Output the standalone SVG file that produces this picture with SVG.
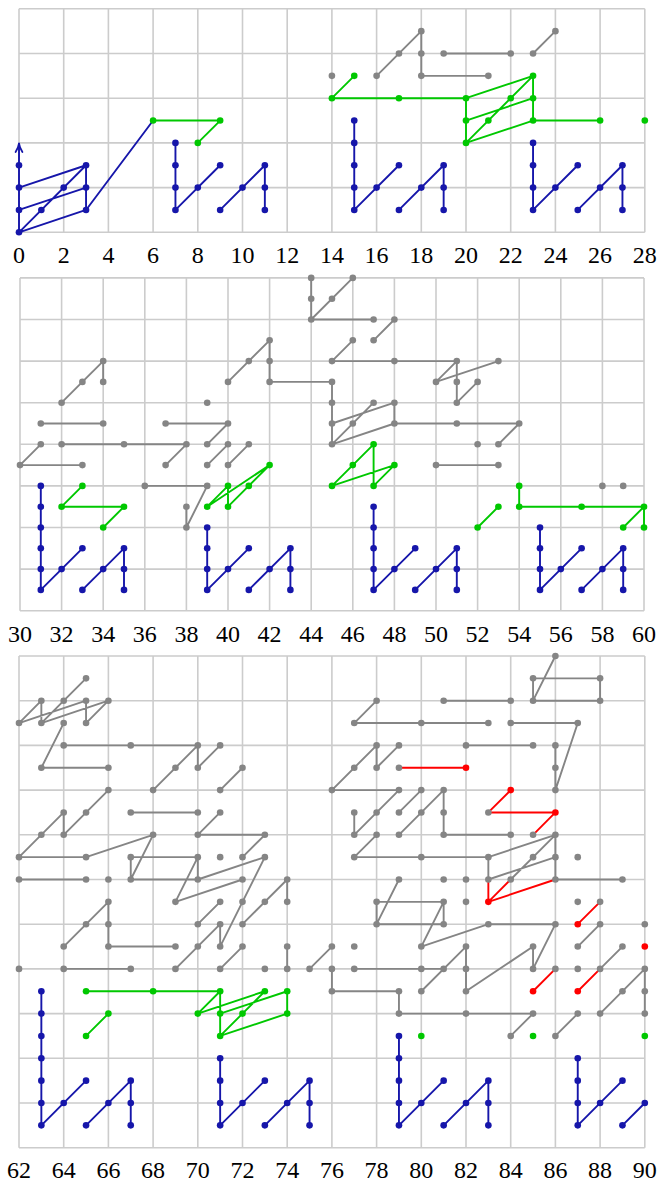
<svg xmlns="http://www.w3.org/2000/svg" width="658" height="1185" viewBox="0 0 658 1185">
<style>
.grid{fill:none;stroke:#cccccc;stroke-width:1.6;vector-effect:non-scaling-stroke}
.c path{fill:none;stroke-width:1.9;stroke-linecap:round;stroke-linejoin:round;vector-effect:non-scaling-stroke}
.b{stroke:#1616aa}
.g{stroke:#00c800}
.k{stroke:#858585}
.r{stroke:#ff0000}
.nb circle{fill:#1616aa}
.ng circle{fill:#00c800}
.nk circle{fill:#858585}
.nr circle{fill:#ff0000}
text{font-family:"Liberation Serif","DejaVu Serif",serif;font-size:24px;text-anchor:middle;fill:#000}
</style>
<rect width="658" height="1185" fill="#fff"/>

<g id="panel1" transform="matrix(22.35 0 0 -22.35 19 232.3)">
<path class="grid" d="M0 0V10M2 0V10M4 0V10M6 0V10M8 0V10M10 0V10M12 0V10M14 0V10M16 0V10M18 0V10M20 0V10M22 0V10M24 0V10M26 0V10M28 0V10M0 0H28M0 2H28M0 4H28M0 6H28M0 8H28M0 10H28"/>
<g id="p1-connectors" class="c">
<path class="k" d="M16 7L18 9V7H21M19 8H22M23 8L24 9"/>
<path class="g" d="M6 5H9L8 4M14 6L15 7M14 6H20M20 4V6M20 6L23 7M20 5L23 6M20 4L23 5M20 4L23 7M23 5V7M23 5H26"/>
<path class="b" d="M0 0V3.97M0 2L3 3M0 1L3 2M0 0L3 1M0 0L3 3M3 1V3M3 1L6 5M7 1V4M7 1L9 3M9 1L11 3M11 1V3M15 1V5M15 1L17 3M17 1L19 3M19 1V3M23 1V4M23 1L25 3M25 1L27 3M27 1V3"/>
</g>
<g id="p1-gray-nodes" class="nk">
<circle cx="14" cy="7" r=".148"/><circle cx="16" cy="7" r=".148"/><circle cx="17" cy="8" r=".148"/><circle cx="18" cy="9" r=".148"/><circle cx="18" cy="8" r=".148"/><circle cx="18" cy="7" r=".148"/><circle cx="21" cy="7" r=".148"/><circle cx="19" cy="8" r=".148"/><circle cx="22" cy="8" r=".148"/><circle cx="23" cy="8" r=".148"/><circle cx="24" cy="9" r=".148"/>
</g>
<g id="p1-green-nodes" class="ng">
<circle cx="6" cy="5" r=".148"/><circle cx="9" cy="5" r=".148"/><circle cx="8" cy="4" r=".148"/><circle cx="14" cy="6" r=".148"/><circle cx="15" cy="7" r=".148"/><circle cx="17" cy="6" r=".148"/><circle cx="20" cy="6" r=".148"/><circle cx="20" cy="5" r=".148"/><circle cx="20" cy="4" r=".148"/><circle cx="21" cy="5" r=".148"/><circle cx="22" cy="6" r=".148"/><circle cx="23" cy="7" r=".148"/><circle cx="23" cy="6" r=".148"/><circle cx="23" cy="5" r=".148"/><circle cx="26" cy="5" r=".148"/><circle cx="28" cy="5" r=".148"/>
</g>
<g id="p1-blue-nodes" class="nb">
<circle cx="0" cy="0" r=".148"/><circle cx="0" cy="1" r=".148"/><circle cx="0" cy="2" r=".148"/><circle cx="0" cy="3" r=".148"/><circle cx="1" cy="1" r=".148"/><circle cx="2" cy="2" r=".148"/><circle cx="3" cy="3" r=".148"/><circle cx="3" cy="2" r=".148"/><circle cx="3" cy="1" r=".148"/>
<circle cx="7" cy="1" r=".148"/><circle cx="7" cy="2" r=".148"/><circle cx="7" cy="3" r=".148"/><circle cx="7" cy="4" r=".148"/><circle cx="8" cy="2" r=".148"/><circle cx="9" cy="3" r=".148"/><circle cx="9" cy="1" r=".148"/><circle cx="10" cy="2" r=".148"/><circle cx="11" cy="3" r=".148"/><circle cx="11" cy="2" r=".148"/><circle cx="11" cy="1" r=".148"/>
<circle cx="15" cy="1" r=".148"/><circle cx="15" cy="2" r=".148"/><circle cx="15" cy="3" r=".148"/><circle cx="15" cy="4" r=".148"/><circle cx="15" cy="5" r=".148"/><circle cx="16" cy="2" r=".148"/><circle cx="17" cy="3" r=".148"/><circle cx="17" cy="1" r=".148"/><circle cx="18" cy="2" r=".148"/><circle cx="19" cy="3" r=".148"/><circle cx="19" cy="2" r=".148"/><circle cx="19" cy="1" r=".148"/>
<circle cx="23" cy="1" r=".148"/><circle cx="23" cy="2" r=".148"/><circle cx="23" cy="3" r=".148"/><circle cx="23" cy="4" r=".148"/><circle cx="24" cy="2" r=".148"/><circle cx="25" cy="3" r=".148"/><circle cx="25" cy="1" r=".148"/><circle cx="26" cy="2" r=".148"/><circle cx="27" cy="3" r=".148"/><circle cx="27" cy="2" r=".148"/><circle cx="27" cy="1" r=".148"/>
</g>
</g>
<path id="p1-arrowhead" d="M15.6 152Q18.4 147.6 19 143.3Q19.6 147.6 22.4 152" fill="none" stroke="#1616aa" stroke-width="1.8" stroke-linecap="round"/>

<g id="panel2" transform="matrix(20.8 0 0 -20.8 -604 610.7)">
<path class="grid" d="M30 0V16M32 0V16M34 0V16M36 0V16M38 0V16M40 0V16M42 0V16M44 0V16M46 0V16M48 0V16M50 0V16M52 0V16M54 0V16M56 0V16M58 0V16M60 0V16M30 0H60M30 2H60M30 4H60M30 6H60M30 8H60M30 10H60M30 12H60M30 14H60M30 16H60"/>
<g id="p2-connectors" class="c">
<path class="k" d="M44 16V14L46 16M44 14H47M47 13L48 14M45 12L46 13M45 12H51L50 11L53 12M51 12V10L52 11M40 11L42 13V11H45V8L47 10M45 9L48 10V9M45 8L48 9H54L53 8M32 10L34 12V11M31 9H34M37 9H40L39 8M30 7L31 8M30 7H33M32 8H38L37 7M39 7L40 8M40 7L41 8M36 6H39L38 4V5M50 7H53"/>
<path class="g" d="M33 6L32 5H35L34 4M39 5L40 6V5L42 7M39 5L42 7M45 6L47 8V6L48 7M45 6L48 7M52 4L53 5M54 6V5H60L59 4M60 5V4"/>
<path class="b" d="M31 1V6M31 1L33 3M33 1L35 3M35 1V3M39 1V4M39 1L41 3M41 1L43 3M43 1V3M47 1V5M47 1L49 3M49 1L51 3M51 1V3M55 1V4M55 1L57 3M57 1L59 3M59 1V3"/>
</g>
<g id="p2-gray-nodes" class="nk">
<circle cx="44" cy="16" r=".159"/><circle cx="44" cy="15" r=".159"/><circle cx="44" cy="14" r=".159"/><circle cx="45" cy="15" r=".159"/><circle cx="46" cy="16" r=".159"/><circle cx="47" cy="14" r=".159"/><circle cx="47" cy="13" r=".159"/><circle cx="48" cy="14" r=".159"/><circle cx="45" cy="12" r=".159"/><circle cx="46" cy="13" r=".159"/><circle cx="48" cy="12" r=".159"/><circle cx="51" cy="12" r=".159"/><circle cx="50" cy="11" r=".159"/><circle cx="53" cy="12" r=".159"/><circle cx="51" cy="11" r=".159"/><circle cx="51" cy="10" r=".159"/><circle cx="52" cy="11" r=".159"/>
<circle cx="40" cy="11" r=".159"/><circle cx="41" cy="12" r=".159"/><circle cx="42" cy="13" r=".159"/><circle cx="42" cy="12" r=".159"/><circle cx="42" cy="11" r=".159"/><circle cx="45" cy="11" r=".159"/><circle cx="45" cy="10" r=".159"/><circle cx="45" cy="9" r=".159"/><circle cx="45" cy="8" r=".159"/><circle cx="46" cy="9" r=".159"/><circle cx="47" cy="10" r=".159"/><circle cx="48" cy="10" r=".159"/><circle cx="48" cy="9" r=".159"/><circle cx="51" cy="9" r=".159"/><circle cx="54" cy="9" r=".159"/><circle cx="53" cy="8" r=".159"/><circle cx="52" cy="8" r=".159"/>
<circle cx="32" cy="10" r=".159"/><circle cx="33" cy="11" r=".159"/><circle cx="34" cy="12" r=".159"/><circle cx="34" cy="11" r=".159"/><circle cx="39" cy="10" r=".159"/><circle cx="31" cy="9" r=".159"/><circle cx="34" cy="9" r=".159"/><circle cx="37" cy="9" r=".159"/><circle cx="40" cy="9" r=".159"/><circle cx="39" cy="8" r=".159"/><circle cx="30" cy="7" r=".159"/><circle cx="31" cy="8" r=".159"/><circle cx="33" cy="7" r=".159"/><circle cx="32" cy="8" r=".159"/><circle cx="35" cy="8" r=".159"/><circle cx="38" cy="8" r=".159"/><circle cx="37" cy="7" r=".159"/><circle cx="39" cy="7" r=".159"/><circle cx="40" cy="8" r=".159"/><circle cx="40" cy="7" r=".159"/><circle cx="41" cy="8" r=".159"/><circle cx="36" cy="6" r=".159"/><circle cx="39" cy="6" r=".159"/><circle cx="38" cy="4" r=".159"/><circle cx="38" cy="5" r=".159"/><circle cx="50" cy="7" r=".159"/><circle cx="53" cy="7" r=".159"/><circle cx="58" cy="6" r=".159"/><circle cx="59" cy="6" r=".159"/>
</g>
<g id="p2-green-nodes" class="ng">
<circle cx="33" cy="6" r=".159"/><circle cx="32" cy="5" r=".159"/><circle cx="35" cy="5" r=".159"/><circle cx="34" cy="4" r=".159"/><circle cx="39" cy="5" r=".159"/><circle cx="40" cy="6" r=".159"/><circle cx="40" cy="5" r=".159"/><circle cx="41" cy="6" r=".159"/><circle cx="42" cy="7" r=".159"/><circle cx="45" cy="6" r=".159"/><circle cx="46" cy="7" r=".159"/><circle cx="47" cy="8" r=".159"/><circle cx="47" cy="6" r=".159"/><circle cx="48" cy="7" r=".159"/><circle cx="52" cy="4" r=".159"/><circle cx="53" cy="5" r=".159"/><circle cx="54" cy="6" r=".159"/><circle cx="54" cy="5" r=".159"/><circle cx="57" cy="5" r=".159"/><circle cx="60" cy="5" r=".159"/><circle cx="59" cy="4" r=".159"/><circle cx="60" cy="4" r=".159"/>
</g>
<g id="p2-blue-nodes" class="nb">
<circle cx="31" cy="1" r=".159"/><circle cx="31" cy="2" r=".159"/><circle cx="31" cy="3" r=".159"/><circle cx="31" cy="4" r=".159"/><circle cx="31" cy="5" r=".159"/><circle cx="31" cy="6" r=".159"/><circle cx="32" cy="2" r=".159"/><circle cx="33" cy="3" r=".159"/><circle cx="33" cy="1" r=".159"/><circle cx="34" cy="2" r=".159"/><circle cx="35" cy="3" r=".159"/><circle cx="35" cy="2" r=".159"/><circle cx="35" cy="1" r=".159"/>
<circle cx="39" cy="1" r=".159"/><circle cx="39" cy="2" r=".159"/><circle cx="39" cy="3" r=".159"/><circle cx="39" cy="4" r=".159"/><circle cx="40" cy="2" r=".159"/><circle cx="41" cy="3" r=".159"/><circle cx="41" cy="1" r=".159"/><circle cx="42" cy="2" r=".159"/><circle cx="43" cy="3" r=".159"/><circle cx="43" cy="2" r=".159"/><circle cx="43" cy="1" r=".159"/>
<circle cx="47" cy="1" r=".159"/><circle cx="47" cy="2" r=".159"/><circle cx="47" cy="3" r=".159"/><circle cx="47" cy="4" r=".159"/><circle cx="47" cy="5" r=".159"/><circle cx="48" cy="2" r=".159"/><circle cx="49" cy="3" r=".159"/><circle cx="49" cy="1" r=".159"/><circle cx="50" cy="2" r=".159"/><circle cx="51" cy="3" r=".159"/><circle cx="51" cy="2" r=".159"/><circle cx="51" cy="1" r=".159"/>
<circle cx="55" cy="1" r=".159"/><circle cx="55" cy="2" r=".159"/><circle cx="55" cy="3" r=".159"/><circle cx="55" cy="4" r=".159"/><circle cx="56" cy="2" r=".159"/><circle cx="57" cy="3" r=".159"/><circle cx="57" cy="1" r=".159"/><circle cx="58" cy="2" r=".159"/><circle cx="59" cy="3" r=".159"/><circle cx="59" cy="2" r=".159"/><circle cx="59" cy="1" r=".159"/>
</g>
</g>

<g id="panel3" transform="matrix(22.35 0 0 -22.35 -1366.7 1147.7)">
<path class="grid" d="M62 0V22M64 0V22M66 0V22M68 0V22M70 0V22M72 0V22M74 0V22M76 0V22M78 0V22M80 0V22M82 0V22M84 0V22M86 0V22M88 0V22M90 0V22M62 0H90M62 2H90M62 4H90M62 6H90M62 8H90M62 10H90M62 12H90M62 14H90M62 16H90M62 18H90M62 20H90M62 22H90"/>
<g id="p3-connectors" class="c">
<path class="k" d="M62 19L63 20V19L65 21M62 19L65 20M63 19L66 20M65 20V19L66 20M64 19L63 17H66M64 18H70L68 16M70 18V17L71 18M71 16L72 17M62 13L64 15V14L66 16M67 15H70M70 14L71 15M70 14H73L72 13M62 13H65L68 14L67 12V13H70V12M67 12H70M62 12H65M70 13L69 11L72 12M70 12L73 13M71 9L73 13M70 10L71 11M69 8L71 10V9M72 10L74 12V11M64 8H67M64 9L66 11V9H69M71 8L72 9M74 9V8M75 8L76 9M76 8V7H79V6H85L84 5M77 8H81M80 7L82 9V7L85 9V8L86 10H83L80 9L81 11M78 10H81V11H78ZM78 10L79 12M86 5L87 6M88 8L89 9M87 9L88 10M88 6L90 8V6M77 19L78 20M77 19H83M81 20H84M84 19H87L86 16V18M82 18H85M86 22L85 20V21H88V20H85M76 16L78 18V17L79 18M76 16H79L77 14V15M79 15L80 16M79 14L81 16V14H84M77 13L78 14M77 13H83M83 13L86 14V12M83 13V12L86 13M84 12L86 14M86 12H89"/>
<path class="r" d="M79 17H82M83 15L84 16M83 15H86L85 14M83 11V12M83 11L84 12M83 11L86 12M85 7L86 8M87 7L88 8M87 10L88 11"/>
<path class="g" d="M65 7H71L70 6L73 7M71 5V7M71 6L74 7M71 5L73 7M71 5L74 6V7M65 5L66 6"/>
<path class="b" d="M63 1V7M63 1L65 3M65 1L67 3M67 1V3M71 1V4M71 1L73 3M73 1L75 3M75 1V3M79 1V5M79 1L81 3M81 1L83 3M83 1V3M87 1V4M87 1L89 3M89 1L90 2"/>
</g>
<g id="p3-gray-nodes" class="nk">
<circle cx="65" cy="21" r=".148"/><circle cx="63" cy="20" r=".148"/><circle cx="64" cy="20" r=".148"/><circle cx="65" cy="20" r=".148"/><circle cx="66" cy="20" r=".148"/><circle cx="62" cy="19" r=".148"/><circle cx="63" cy="19" r=".148"/><circle cx="64" cy="19" r=".148"/><circle cx="65" cy="19" r=".148"/><circle cx="63" cy="17" r=".148"/><circle cx="66" cy="17" r=".148"/>
<circle cx="64" cy="18" r=".148"/><circle cx="67" cy="18" r=".148"/><circle cx="70" cy="18" r=".148"/><circle cx="69" cy="17" r=".148"/><circle cx="68" cy="16" r=".148"/><circle cx="70" cy="17" r=".148"/><circle cx="71" cy="18" r=".148"/><circle cx="71" cy="16" r=".148"/><circle cx="72" cy="17" r=".148"/>
<circle cx="62" cy="13" r=".148"/><circle cx="63" cy="14" r=".148"/><circle cx="64" cy="15" r=".148"/><circle cx="64" cy="14" r=".148"/><circle cx="65" cy="15" r=".148"/><circle cx="66" cy="16" r=".148"/><circle cx="67" cy="15" r=".148"/><circle cx="70" cy="15" r=".148"/><circle cx="70" cy="14" r=".148"/><circle cx="71" cy="15" r=".148"/><circle cx="73" cy="14" r=".148"/><circle cx="72" cy="13" r=".148"/>
<circle cx="65" cy="13" r=".148"/><circle cx="68" cy="14" r=".148"/><circle cx="67" cy="13" r=".148"/><circle cx="67" cy="12" r=".148"/><circle cx="70" cy="13" r=".148"/><circle cx="70" cy="12" r=".148"/><circle cx="71" cy="13" r=".148"/><circle cx="62" cy="12" r=".148"/><circle cx="65" cy="12" r=".148"/><circle cx="66" cy="12" r=".148"/>
<circle cx="69" cy="11" r=".148"/><circle cx="72" cy="12" r=".148"/><circle cx="73" cy="13" r=".148"/><circle cx="71" cy="9" r=".148"/><circle cx="72" cy="11" r=".148"/><circle cx="70" cy="10" r=".148"/><circle cx="71" cy="11" r=".148"/><circle cx="71" cy="10" r=".148"/><circle cx="70" cy="9" r=".148"/><circle cx="69" cy="8" r=".148"/><circle cx="72" cy="10" r=".148"/><circle cx="73" cy="11" r=".148"/><circle cx="74" cy="12" r=".148"/><circle cx="74" cy="11" r=".148"/>
<circle cx="62" cy="8" r=".148"/><circle cx="64" cy="8" r=".148"/><circle cx="67" cy="8" r=".148"/><circle cx="64" cy="9" r=".148"/><circle cx="65" cy="10" r=".148"/><circle cx="66" cy="11" r=".148"/><circle cx="66" cy="10" r=".148"/><circle cx="66" cy="9" r=".148"/><circle cx="69" cy="9" r=".148"/><circle cx="71" cy="8" r=".148"/><circle cx="72" cy="9" r=".148"/><circle cx="73" cy="8" r=".148"/><circle cx="74" cy="9" r=".148"/><circle cx="74" cy="8" r=".148"/><circle cx="75" cy="8" r=".148"/><circle cx="76" cy="9" r=".148"/><circle cx="77" cy="9" r=".148"/><circle cx="76" cy="8" r=".148"/><circle cx="76" cy="7" r=".148"/><circle cx="79" cy="7" r=".148"/><circle cx="79" cy="6" r=".148"/><circle cx="82" cy="6" r=".148"/><circle cx="85" cy="6" r=".148"/><circle cx="84" cy="5" r=".148"/>
<circle cx="77" cy="8" r=".148"/><circle cx="80" cy="8" r=".148"/><circle cx="81" cy="8" r=".148"/><circle cx="80" cy="7" r=".148"/><circle cx="82" cy="9" r=".148"/><circle cx="82" cy="8" r=".148"/><circle cx="82" cy="7" r=".148"/><circle cx="85" cy="9" r=".148"/><circle cx="85" cy="8" r=".148"/><circle cx="86" cy="10" r=".148"/><circle cx="83" cy="10" r=".148"/><circle cx="80" cy="9" r=".148"/><circle cx="81" cy="11" r=".148"/><circle cx="81" cy="10" r=".148"/><circle cx="78" cy="10" r=".148"/><circle cx="78" cy="11" r=".148"/><circle cx="82" cy="11" r=".148"/>
<circle cx="86" cy="5" r=".148"/><circle cx="87" cy="6" r=".148"/><circle cx="88" cy="8" r=".148"/><circle cx="89" cy="9" r=".148"/><circle cx="87" cy="9" r=".148"/><circle cx="88" cy="10" r=".148"/><circle cx="87" cy="8" r=".148"/><circle cx="88" cy="6" r=".148"/><circle cx="89" cy="7" r=".148"/><circle cx="90" cy="8" r=".148"/><circle cx="90" cy="7" r=".148"/><circle cx="90" cy="6" r=".148"/><circle cx="87" cy="11" r=".148"/><circle cx="88" cy="11" r=".148"/><circle cx="90" cy="10" r=".148"/><circle cx="86" cy="8" r=".148"/>
<circle cx="77" cy="19" r=".148"/><circle cx="78" cy="20" r=".148"/><circle cx="80" cy="19" r=".148"/><circle cx="83" cy="19" r=".148"/><circle cx="81" cy="20" r=".148"/><circle cx="84" cy="20" r=".148"/><circle cx="84" cy="19" r=".148"/><circle cx="87" cy="19" r=".148"/><circle cx="86" cy="16" r=".148"/><circle cx="86" cy="17" r=".148"/><circle cx="86" cy="18" r=".148"/><circle cx="82" cy="18" r=".148"/><circle cx="85" cy="18" r=".148"/><circle cx="86" cy="22" r=".148"/><circle cx="85" cy="21" r=".148"/><circle cx="85" cy="20" r=".148"/><circle cx="88" cy="21" r=".148"/><circle cx="88" cy="20" r=".148"/>
<circle cx="76" cy="16" r=".148"/><circle cx="77" cy="17" r=".148"/><circle cx="78" cy="18" r=".148"/><circle cx="78" cy="17" r=".148"/><circle cx="79" cy="18" r=".148"/><circle cx="79" cy="17" r=".148"/><circle cx="79" cy="16" r=".148"/><circle cx="78" cy="15" r=".148"/><circle cx="77" cy="14" r=".148"/><circle cx="77" cy="15" r=".148"/><circle cx="79" cy="15" r=".148"/><circle cx="80" cy="16" r=".148"/><circle cx="79" cy="14" r=".148"/><circle cx="80" cy="15" r=".148"/><circle cx="81" cy="16" r=".148"/><circle cx="81" cy="15" r=".148"/><circle cx="81" cy="14" r=".148"/><circle cx="84" cy="14" r=".148"/><circle cx="77" cy="13" r=".148"/><circle cx="78" cy="14" r=".148"/><circle cx="80" cy="13" r=".148"/><circle cx="83" cy="13" r=".148"/>
<circle cx="83" cy="15" r=".148"/><circle cx="85" cy="14" r=".148"/><circle cx="86" cy="14" r=".148"/><circle cx="86" cy="13" r=".148"/><circle cx="86" cy="12" r=".148"/><circle cx="83" cy="12" r=".148"/><circle cx="84" cy="12" r=".148"/><circle cx="85" cy="13" r=".148"/><circle cx="89" cy="12" r=".148"/><circle cx="87" cy="13" r=".148"/><circle cx="81" cy="12" r=".148"/><circle cx="82" cy="12" r=".148"/><circle cx="79" cy="12" r=".148"/>
</g>
<g id="p3-red-nodes" class="nr">
<circle cx="82" cy="17" r=".148"/><circle cx="84" cy="16" r=".148"/><circle cx="86" cy="15" r=".148"/><circle cx="83" cy="11" r=".148"/><circle cx="85" cy="7" r=".148"/><circle cx="87" cy="7" r=".148"/><circle cx="87" cy="10" r=".148"/><circle cx="90" cy="9" r=".148"/>
</g>
<g id="p3-green-nodes" class="ng">
<circle cx="65" cy="7" r=".148"/><circle cx="68" cy="7" r=".148"/><circle cx="71" cy="7" r=".148"/><circle cx="70" cy="6" r=".148"/><circle cx="71" cy="6" r=".148"/><circle cx="71" cy="5" r=".148"/><circle cx="72" cy="6" r=".148"/><circle cx="73" cy="7" r=".148"/><circle cx="74" cy="7" r=".148"/><circle cx="74" cy="6" r=".148"/><circle cx="65" cy="5" r=".148"/><circle cx="66" cy="6" r=".148"/><circle cx="80" cy="5" r=".148"/><circle cx="85" cy="5" r=".148"/><circle cx="90" cy="5" r=".148"/>
</g>
<g id="p3-blue-nodes" class="nb">
<circle cx="63" cy="1" r=".148"/><circle cx="63" cy="2" r=".148"/><circle cx="63" cy="3" r=".148"/><circle cx="63" cy="4" r=".148"/><circle cx="63" cy="5" r=".148"/><circle cx="63" cy="6" r=".148"/><circle cx="63" cy="7" r=".148"/><circle cx="64" cy="2" r=".148"/><circle cx="65" cy="3" r=".148"/><circle cx="65" cy="1" r=".148"/><circle cx="66" cy="2" r=".148"/><circle cx="67" cy="3" r=".148"/><circle cx="67" cy="2" r=".148"/><circle cx="67" cy="1" r=".148"/>
<circle cx="71" cy="1" r=".148"/><circle cx="71" cy="2" r=".148"/><circle cx="71" cy="3" r=".148"/><circle cx="71" cy="4" r=".148"/><circle cx="72" cy="2" r=".148"/><circle cx="73" cy="3" r=".148"/><circle cx="73" cy="1" r=".148"/><circle cx="74" cy="2" r=".148"/><circle cx="75" cy="3" r=".148"/><circle cx="75" cy="2" r=".148"/><circle cx="75" cy="1" r=".148"/>
<circle cx="79" cy="1" r=".148"/><circle cx="79" cy="2" r=".148"/><circle cx="79" cy="3" r=".148"/><circle cx="79" cy="4" r=".148"/><circle cx="79" cy="5" r=".148"/><circle cx="80" cy="2" r=".148"/><circle cx="81" cy="3" r=".148"/><circle cx="81" cy="1" r=".148"/><circle cx="82" cy="2" r=".148"/><circle cx="83" cy="3" r=".148"/><circle cx="83" cy="2" r=".148"/><circle cx="83" cy="1" r=".148"/>
<circle cx="87" cy="1" r=".148"/><circle cx="87" cy="2" r=".148"/><circle cx="87" cy="3" r=".148"/><circle cx="87" cy="4" r=".148"/><circle cx="88" cy="2" r=".148"/><circle cx="89" cy="3" r=".148"/><circle cx="89" cy="1" r=".148"/><circle cx="90" cy="2" r=".148"/>
</g>
</g>

<g id="axis-labels">
<text x="19" y="263">0</text><text x="63.7" y="263">2</text><text x="108.4" y="263">4</text><text x="153.1" y="263">6</text><text x="197.8" y="263">8</text><text x="242.5" y="263">10</text><text x="287.2" y="263">12</text><text x="331.9" y="263">14</text><text x="376.6" y="263">16</text><text x="421.3" y="263">18</text><text x="466" y="263">20</text><text x="510.7" y="263">22</text><text x="555.4" y="263">24</text><text x="600.1" y="263">26</text><text x="644.8" y="263">28</text>
<text x="20" y="642">30</text><text x="61.6" y="642">32</text><text x="103.2" y="642">34</text><text x="144.8" y="642">36</text><text x="186.4" y="642">38</text><text x="228" y="642">40</text><text x="269.6" y="642">42</text><text x="311.2" y="642">44</text><text x="352.8" y="642">46</text><text x="394.4" y="642">48</text><text x="436" y="642">50</text><text x="477.6" y="642">52</text><text x="519.2" y="642">54</text><text x="560.8" y="642">56</text><text x="602.4" y="642">58</text><text x="644" y="642">60</text>
<text x="19" y="1178">62</text><text x="63.7" y="1178">64</text><text x="108.4" y="1178">66</text><text x="153.1" y="1178">68</text><text x="197.8" y="1178">70</text><text x="242.5" y="1178">72</text><text x="287.2" y="1178">74</text><text x="331.9" y="1178">76</text><text x="376.6" y="1178">78</text><text x="421.3" y="1178">80</text><text x="466" y="1178">82</text><text x="510.7" y="1178">84</text><text x="555.4" y="1178">86</text><text x="600.1" y="1178">88</text><text x="644.8" y="1178">90</text>
</g>
</svg>
